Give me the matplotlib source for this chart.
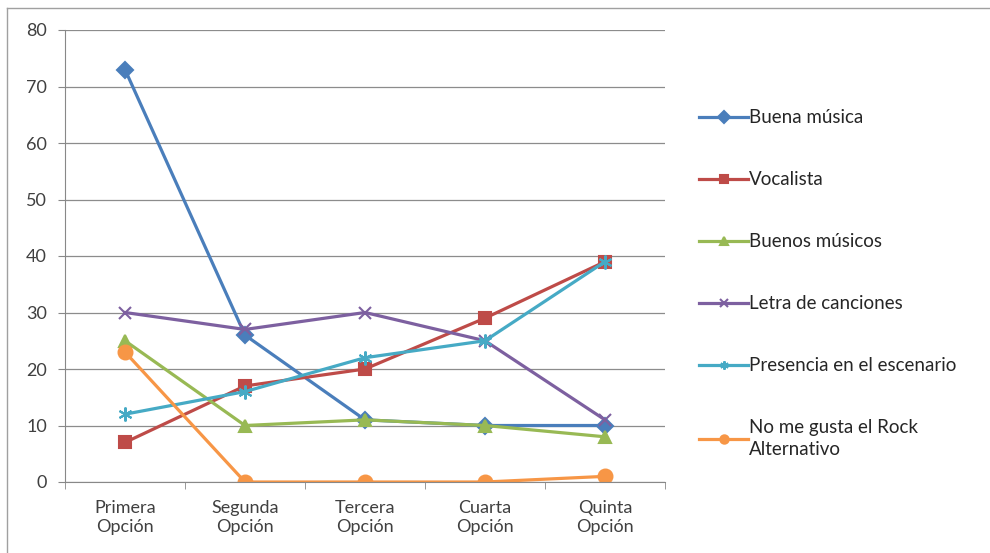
import matplotlib.pyplot as plt
from matplotlib.lines import Line2D

plt.rcParams['font.family'] = ['Lato', 'DejaVu Sans']

categories = ["Primera\nOpción", "Segunda\nOpción", "Tercera\nOpción", "Cuarta\nOpción", "Quinta\nOpción"]
buena_musica = [73, 26, 11, 10, 10]
vocalista = [7, 17, 20, 29, 39]
buenos_musicos = [25, 10, 11, 10, 8]
letra = [30, 27, 30, 25, 11]
presencia = [12, 16, 22, 25, 39]
no_gusta = [23, 0, 0, 0, 1]

series = [
    ("Buena música", buena_musica, "#4A7EBB", "D", 8),
    ("Vocalista", vocalista, "#BE4B48", "s", 9),
    ("Buenos músicos", buenos_musicos, "#98B954", "^", 9),
    ("Letra de canciones", letra, "#7D60A0", "x", 9),
    ("Presencia en el escenario", presencia, "#46AAC5", (6, 2, 0), 10),
    ("No me gusta el Rock\nAlternativo", no_gusta, "#F79646", "o", 10),
]

fig = plt.figure(figsize=(9.9, 5.53), dpi=100)
ax = fig.add_axes([65 / 990, 71 / 553, 600 / 990, 452 / 553])

x = range(len(categories))
for name, vals, col, mk, ms in series:
    ax.plot(x, vals, color=col, lw=2.3, marker=mk, ms=ms, mew=1.5,
            mec=col, mfc=col, label=name)

ax.set_xlim(-0.5, len(categories) - 0.5)
ax.set_ylim(0, 80)
ax.set_yticks(range(0, 81, 10))
ax.set_xticks(list(x))
ax.set_xticklabels(categories, fontsize=13, color="#404040", linespacing=1.25)
ax.set_xticks([i + 0.5 for i in range(-1, len(categories))], minor=True)
ax.tick_params(axis="x", which="major", length=0, pad=13)
ax.tick_params(axis="x", which="minor", length=5, color="#888888", direction="out")
ax.tick_params(axis="y", length=5, color="#888888", labelsize=13, labelcolor="#404040", pad=8)
ax.grid(axis="y", color="#8c8c8c", lw=0.9)
ax.set_axisbelow(True)
for s in ["top", "right"]:
    ax.spines[s].set_visible(False)
for s in ["left", "bottom"]:
    ax.spines[s].set_color("#888888")

leg = fig.legend(loc="upper left", bbox_to_anchor=(690 / 990, 1 - 100 / 553),
                 frameon=False, fontsize=13.5, labelspacing=2.4, handlelength=2.6,
                 handletextpad=0.05, borderpad=0)
for t in leg.get_texts():
    t.set_color("#262626")
    t.set_linespacing(1.3)
for h in leg.legend_handles:
    h.set_markersize(6)

# outer chart border
fig.add_artist(Line2D([7 / 990, 7 / 990], [0, 1 - 8 / 553], color="#a0a0a0", lw=1))
fig.add_artist(Line2D([7 / 990, 1], [1 - 8 / 553, 1 - 8 / 553], color="#a0a0a0", lw=1))

fig.savefig("out.png", dpi=100)
